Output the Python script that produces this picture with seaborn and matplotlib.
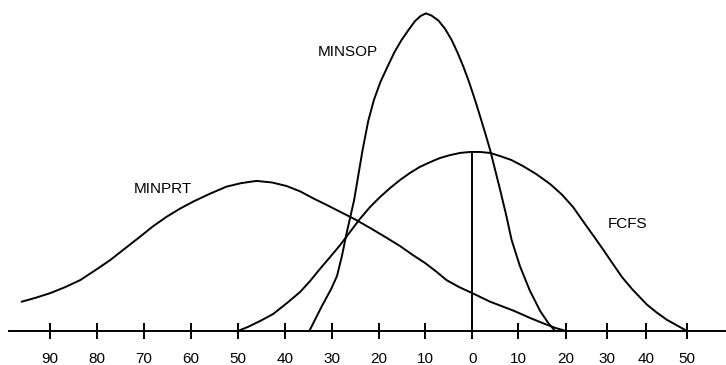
import numpy as np
import pandas as pd
import matplotlib
matplotlib.use("Agg")
import matplotlib.pyplot as plt
import seaborn as sns

# Distribution curves (x: deviation, y: relative frequency)
minsop_x = [-34.75, -32.05, -30.1, -28.85, -27.8, -26.8, -25.2, -23.4, -22.2, -21.0, -19.6,
            -18.1, -16.6, -15.1, -13.6, -12.2, -11.0, -9.9, -8.7, -7.2, -5.8, -4.4, -3.2,
            -1.9, -0.7, 0.6, 1.7, 2.8, 3.9, 6.1, 7.4, 8.6, 10.4, 12.4, 14.6, 16.3, 17.7]
minsop_y = [0, 7.9, 13.2, 17.3, 23.6, 30.8, 41.2, 56.9, 66.0, 72.6, 78.3,
            83.1, 87.7, 91.5, 94.7, 97.5, 99.1, 99.9, 99.2, 97.6, 95.0, 91.5, 87.7,
            83.1, 78.3, 72.6, 67.5, 62.3, 56.9, 44.3, 36.5, 28.6, 20.4, 12.9, 6.3, 2.5, 0]

fcfs_x = [-50.0, -47.8, -45.3, -42.5, -39.5, -36.7, -34.6, -32.5, -30.3, -28.2, -26.1,
          -24.0, -21.8, -19.7, -17.5, -15.4, -13.3, -11.2, -9.0, -6.9, -4.8, -2.6, -0.5,
          1.7, 3.9, 6.1, 8.5, 11.0, 13.75, 16.7, 19.2, 21.7, 24.1, 26.7, 29.1, 31.5,
          33.8, 36.4, 38.5, 40.2, 42.7, 45.1, 47.6, 50.0]
fcfs_y = [0, 1.3, 3.1, 5.3, 8.8, 12.3, 15.7, 19.5, 23.3, 27.0, 31.1,
          35.2, 39.0, 42.1, 45.0, 47.5, 49.7, 51.6, 53.1, 54.4, 55.3, 56.0, 56.3,
          56.3, 56.0, 55.0, 53.8, 51.9, 49.4, 46.2, 42.8, 39.0, 34.6, 29.9, 25.5, 21.1,
          17.0, 13.2, 10.5, 8.3, 5.7, 3.5, 1.7, 0]

minprt_x = [-96.1, -93.2, -90.0, -86.8, -83.6, -80.5, -77.2, -74.1, -70.8, -68.1, -65.2,
            -62.3, -59.5, -55.9, -52.4, -49.3, -46.0, -42.7, -39.6, -36.7, -33.9, -31.0,
            -28.2, -25.0, -21.8, -18.6, -15.4, -12.9, -10.1, -7.7, -5.5, -2.8, 0.0,
            3.9, 9.0, 12.5, 15.6, 17.9, 20.0]
minprt_y = [9.2, 10.4, 11.9, 13.8, 16.0, 19.0, 22.3, 25.9, 29.7, 32.9, 35.9,
            38.5, 40.7, 43.2, 45.4, 46.5, 47.2, 46.7, 45.6, 43.9, 41.7, 39.6,
            37.5, 35.1, 32.4, 29.6, 26.7, 24.1, 21.4, 18.7, 16.0, 13.8, 11.9,
            9.2, 6.4, 4.1, 2.2, 0.9, 0]

tick_values = [-90, -80, -70, -60, -50, -40, -30, -20, -10, 0, 10, 20, 30, 40, 50]
tick_labels = [str(abs(v)) for v in tick_values]

series_names = ["MINSOP", "FCFS", "MINPRT"]

# Hand-ruled axis: spacing right of zero is slightly uneven
scale_vals = np.array([-1000.0, 0.0, 10.0, 20.0, 30.0, 40.0, 50.0, 1000.0])
scale_u = np.array([-1000.0, 0.0, 9.74, 19.98, 28.72, 37.04, 45.78, 995.78])


def forward(v):
    return np.interp(v, scale_vals, scale_u)


def inverse(u):
    return np.interp(u, scale_u, scale_vals)


sns.set_style("white")
plt.rcParams["font.family"] = ["Liberation Sans", "DejaVu Sans"]
plt.rcParams["text.color"] = "black"
plt.rcParams["xtick.color"] = "black"

df = pd.concat([
    pd.DataFrame({"x": minsop_x, "y": minsop_y, "series": "MINSOP"}),
    pd.DataFrame({"x": fcfs_x, "y": fcfs_y, "series": "FCFS"}),
    pd.DataFrame({"x": minprt_x, "y": minprt_y, "series": "MINPRT"}),
], ignore_index=True)

fig = plt.figure(figsize=(7.26, 3.65), dpi=100)
ax = fig.add_axes([0, 0, 1, 1])

for name in series_names:
    sub = df[df["series"] == name]
    sns.lineplot(data=sub, x="x", y="y", ax=ax, color="black", linewidth=1.4,
                 sort=False, estimator=None, legend=False)

# Vertical reference at zero, up to the FCFS curve
top0 = np.interp(0.0, fcfs_x, fcfs_y)
ax.vlines(0, 0, top0, color="black", linewidth=1.4)

ax.set_xscale("function", functions=(forward, inverse))
ax.set_xlim(-100.7, 58.3)
ax.set_ylim(-10.7, 104.1)

# Curve labels
ax.text(-32.9, 87.9, "MINSOP", fontsize=11, ha="left", va="center", color="black")
ax.text(-72.1, 44.8, "MINPRT", fontsize=11, ha="left", va="center", color="black")
ax.text(30.3, 33.5, "FCFS", fontsize=11, ha="left", va="center", color="black")

for s in ["top", "right", "left"]:
    ax.spines[s].set_visible(False)
ax.spines["bottom"].set_position(("data", 0))
ax.spines["bottom"].set_bounds(-98.8, 58.1)
ax.spines["bottom"].set_linewidth(1.4)
ax.spines["bottom"].set_color("black")

ax.set_xticks(tick_values)
ax.set_xticklabels(tick_labels)
ax.xaxis.set_minor_locator(matplotlib.ticker.NullLocator())
ax.tick_params(axis="x", which="major", bottom=True, direction="inout", length=12,
               width=1.4, colors="black", labelcolor="black", labelsize=11, pad=9)
ax.set_yticks([])
ax.set_xlabel("")
ax.set_ylabel("")

fig.savefig("out.png", dpi=100)
